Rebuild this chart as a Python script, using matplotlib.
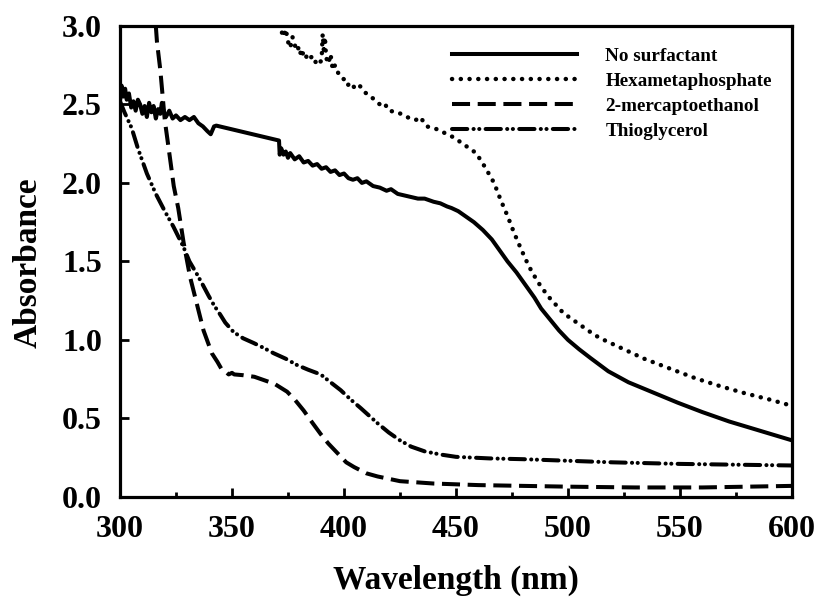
import matplotlib
matplotlib.use("Agg")
import matplotlib.pyplot as plt
from matplotlib.ticker import MultipleLocator

plt.rcParams["font.family"] = ["Liberation Serif", "DejaVu Serif"]
plt.rcParams["font.weight"] = "bold"
plt.rcParams["lines.scale_dashes"] = False

# No surfactant (solid)
WL_NONE = [300, 300.7, 301.5, 302.3, 303, 304, 305, 306, 307, 308, 309, 310, 311,
           312, 313, 314, 315, 316, 317, 318, 318.7, 319.5, 320.5, 322, 323.5, 325,
           327, 329, 331, 333, 335, 337, 339, 340.5, 342, 343, 371, 371.3, 372, 373,
           374, 375, 376, 378, 380, 382, 384, 386, 388, 390, 392, 394, 396, 398, 400,
           402, 404, 406, 408, 410, 413, 416, 419, 421, 424, 427, 430, 433, 436, 440,
           443, 446, 448, 451, 455, 458, 462, 466, 470, 473, 477, 481, 485, 488, 492,
           496, 500, 505, 510, 518, 527, 538, 549, 560, 572, 586, 600]
A_NONE = [2.52, 2.62, 2.55, 2.60, 2.53, 2.57, 2.48, 2.52, 2.46, 2.53, 2.50, 2.44, 2.49,
          2.42, 2.51, 2.45, 2.49, 2.41, 2.47, 2.44, 2.51, 2.45, 2.42, 2.46, 2.41, 2.43,
          2.40, 2.42, 2.40, 2.42, 2.38, 2.36, 2.33, 2.31, 2.36, 2.365, 2.27, 2.18, 2.22, 2.18,
          2.20, 2.16, 2.19, 2.15, 2.17, 2.13, 2.14, 2.11, 2.12, 2.09, 2.10, 2.07, 2.08, 2.05, 2.06,
          2.03, 2.02, 2.03, 2.00, 2.01, 1.98, 1.97, 1.95, 1.96, 1.93, 1.92, 1.91, 1.90, 1.90, 1.88,
          1.87, 1.85, 1.84, 1.82, 1.78, 1.75, 1.70, 1.64, 1.56, 1.50, 1.43, 1.35, 1.27, 1.20, 1.13,
          1.06, 1.00, 0.94, 0.885, 0.80, 0.73, 0.665, 0.60, 0.54, 0.48, 0.42, 0.36]

# Hexametaphosphate (dotted)
WL_HEX = [368, 370.5, 372, 373, 374, 375, 376, 377, 378, 379, 380, 381, 382, 384, 386,
          388, 390, 390.5, 391, 391.5, 392, 393, 394, 395, 396, 398, 400, 401.5, 403, 405,
          407, 409, 412, 416, 418, 420, 424, 428, 432, 434, 437, 442, 446, 449, 455, 459,
          463, 467, 470, 473, 476, 479, 482.5, 486.5, 491, 498, 505, 512, 516, 525, 534,
          545, 557, 568, 579, 590, 600]
A_HEX = [3.05, 3.00, 2.97, 2.93, 2.98, 2.90, 2.86, 2.93, 2.88, 2.84, 2.87, 2.80, 2.84, 2.78, 2.81,
         2.75, 2.78, 2.95, 2.85, 2.93, 2.80, 2.76, 2.82, 2.72, 2.75, 2.68, 2.66, 2.62, 2.64, 2.60,
         2.62, 2.58, 2.55, 2.50, 2.51, 2.46, 2.45, 2.42, 2.40, 2.42, 2.36, 2.34, 2.31, 2.29, 2.23, 2.19,
         2.10, 2.00, 1.89, 1.79, 1.68, 1.58, 1.47, 1.37, 1.28, 1.17, 1.10, 1.03, 1.00, 0.94, 0.88,
         0.82, 0.755, 0.705, 0.66, 0.62, 0.58]

# 2-mercaptoethanol (dashed)
WL_MER = [313, 315.5, 316.5, 318, 320, 322.4, 324, 326, 328.4, 331.3, 334.3, 337.3, 341,
          343.5, 345.5, 347, 348.5, 350, 351, 355, 360, 365, 369, 374.6, 378, 382, 386,
          389.6, 393, 397, 401, 404.5, 410, 415, 425, 440, 460, 480, 500, 530, 560, 580, 600]
A_MER = [3.5, 3.1, 2.9, 2.72, 2.40, 2.15, 1.98, 1.84, 1.62, 1.40, 1.23, 1.06, 0.915,
         0.86, 0.81, 0.80, 0.78, 0.79, 0.78, 0.775, 0.765, 0.74, 0.72, 0.67, 0.62, 0.55, 0.47,
         0.40, 0.34, 0.28, 0.22, 0.19, 0.15, 0.13, 0.10, 0.085, 0.075, 0.07, 0.065, 0.06, 0.06,
         0.065, 0.07]

# Thioglycerol (dash-dot-dot)
WL_THIO = [300, 302, 305.2, 308, 312, 316, 320, 323.9, 328.4, 331, 334.3, 337, 339.6, 342,
           344.8, 347, 350.7, 355, 359.7, 364, 368.6, 374, 379, 384, 389.6, 394, 398.5, 403,
           407.5, 411, 414.9, 420, 425, 430, 436, 443, 450, 465, 480, 500, 520, 550, 575, 600]
A_THIO = [2.52, 2.45, 2.35, 2.22, 2.06, 1.93, 1.82, 1.72, 1.59, 1.50, 1.42, 1.35, 1.28, 1.22,
          1.16, 1.11, 1.05, 1.01, 0.98, 0.95, 0.915, 0.88, 0.84, 0.81, 0.78, 0.73, 0.68, 0.62,
          0.565, 0.52, 0.47, 0.41, 0.36, 0.32, 0.29, 0.27, 0.255, 0.245, 0.24, 0.23, 0.22, 0.21,
          0.205, 0.20]

LABELS = ["No surfactant", "Hexametaphosphate", "2-mercaptoethanol", "Thioglycerol"]


def main():
    fig = plt.figure(figsize=(8.19, 6.03), dpi=100)
    ax = fig.add_axes([0.1465, 0.176, 0.8205, 0.781])

    lw = 2.9
    ax.plot(WL_NONE, A_NONE, color="black", lw=lw, label=LABELS[0])
    ax.plot(WL_HEX, A_HEX, color="black", lw=3.2, linestyle=(0, (0.1, 6.2)),
            dash_capstyle="round", label=LABELS[1])
    ax.plot(WL_MER, A_MER, color="black", lw=lw, linestyle=(0, (13, 5.5)),
            label=LABELS[2])
    ax.plot(WL_THIO, A_THIO, color="black", lw=lw,
            linestyle=(0, (11, 4.5, 0.1, 4, 0.1, 4.5)), dash_capstyle="round",
            label=LABELS[3])

    ax.set_xlim(300, 600)
    ax.set_ylim(0, 3.0)
    ax.xaxis.set_major_locator(MultipleLocator(50))
    ax.xaxis.set_minor_locator(MultipleLocator(25))
    ax.yaxis.set_major_locator(MultipleLocator(0.5))
    ax.yaxis.set_major_formatter(plt.FormatStrFormatter("%.1f"))

    ax.tick_params(which="major", direction="in", length=6.5, width=2,
                   labelsize=23, pad=13)
    ax.tick_params(which="minor", direction="in", length=3.5, width=2)
    ax.tick_params(axis="x", which="both", top=False)
    ax.tick_params(axis="y", which="both", right=False)
    for s in ax.spines.values():
        s.set_linewidth(2.3)

    ax.set_xlabel("Wavelength (nm)", fontsize=24, fontweight="bold")
    ax.set_ylabel("Absorbance", fontsize=24, fontweight="bold")
    ax.xaxis.set_label_coords(0.5, -0.144)
    ax.yaxis.set_label_coords(-0.113, 0.497)

    leg = ax.legend(loc="upper left", bbox_to_anchor=(0.494, 0.955),
                    frameon=False, fontsize=13.8, handlelength=6.5,
                    handletextpad=1.5, labelspacing=0.4, borderpad=0,
                    borderaxespad=0)
    for t in leg.get_texts():
        t.set_fontweight("bold")

    fig.savefig("out.png", dpi=100)


if __name__ == "__main__":
    main()
